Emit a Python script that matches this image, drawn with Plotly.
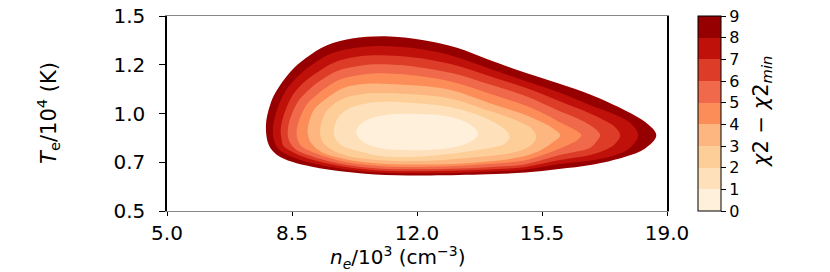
import plotly.graph_objects as go

# ---- data ----
ne_ticks = [5.0, 8.5, 12.0, 15.5, 19.0]
ne_tick_labels = ["5.0", "8.5", "12.0", "15.5", "19.0"]
te_ticks = [0.5, 0.75, 1.0, 1.25, 1.5]
te_tick_labels = ["0.5", "0.7", "1.0", "1.2", "1.5"]
chi_levels = [0, 1, 2, 3, 4, 5, 6, 7, 8, 9]

# boundaries of the filled regions chi2 - chi2min <= L  (ne / 10^3, Te / 10^4)
level9_ne = [7.77, 7.88, 8.05, 8.45, 8.87, 9.48, 10.18, 11.11, 12.19, 13.12, 14.05, 15.10, 15.97, 16.90, 17.83, 18.39, 18.70,
             18.39, 17.83, 16.90, 15.97, 15.03, 13.77, 12.20, 11.11, 9.99, 9.06, 8.50, 8.08, 7.85]
level9_te = [0.940, 1.040, 1.111, 1.213, 1.282, 1.350, 1.384, 1.396, 1.376, 1.337, 1.273, 1.205, 1.154, 1.094, 1.016, 0.956, 0.889,
             0.821, 0.778, 0.737, 0.715, 0.697, 0.687, 0.682, 0.684, 0.701, 0.727, 0.752, 0.787, 0.838]

level8_ne = [7.97, 8.25, 8.63, 9.02, 9.58, 10.3, 11.0, 12.0, 13.0, 14.0, 15.0, 16.0, 17.0, 17.5, 17.95, 18.19,
             17.95, 17.5, 17.0, 16.0, 15.0, 14.0, 13.0, 12.0, 11.0, 10.0, 9.1, 8.54, 8.17, 8.02]
level8_te = [0.935, 1.094, 1.184, 1.245, 1.306, 1.337, 1.346, 1.333, 1.295, 1.232, 1.169, 1.106, 1.032, 0.998, 0.955, 0.889,
             0.822, 0.783, 0.763, 0.741, 0.712, 0.701, 0.695, 0.693, 0.696, 0.713, 0.743, 0.774, 0.810, 0.849]

level7_ne = [8.19, 8.46, 8.81, 9.17, 9.68, 10.3, 11.0, 12.0, 13.0, 14.0, 15.0, 16.0, 16.85, 17.3, 17.55, 17.69,
             17.55, 17.3, 16.85, 16.0, 15.0, 14.0, 13.0, 12.0, 11.0, 10.0, 9.12, 8.58, 8.26, 8.21]
level7_te = [0.932, 1.076, 1.156, 1.207, 1.262, 1.291, 1.299, 1.286, 1.251, 1.193, 1.134, 1.063, 1.000, 0.960, 0.930, 0.889,
             0.845, 0.815, 0.787, 0.761, 0.725, 0.713, 0.706, 0.704, 0.707, 0.726, 0.760, 0.796, 0.833, 0.865]

level6_ne = [8.39, 8.66, 9.00, 9.31, 9.78, 10.4, 11.0, 12.0, 13.0, 14.0, 15.0, 16.0, 16.5, 16.85, 17.05, 17.13,
             17.05, 16.85, 16.5, 16.0, 15.0, 14.0, 13.0, 12.0, 11.0, 10.0, 9.15, 8.61, 8.42]
level6_te = [0.930, 1.059, 1.126, 1.170, 1.219, 1.245, 1.252, 1.239, 1.206, 1.151, 1.092, 1.012, 0.975, 0.940, 0.912, 0.889,
             0.862, 0.825, 0.806, 0.787, 0.739, 0.725, 0.717, 0.714, 0.717, 0.737, 0.775, 0.815, 0.860]

level5_ne = [8.64, 8.89, 9.19, 9.46, 9.88, 10.5, 11.0, 12.0, 13.0, 14.0, 15.0, 15.6, 16.0, 16.3, 16.5, 16.6,
             16.5, 16.3, 16.0, 15.0, 14.0, 13.0, 12.0, 11.0, 10.0, 9.18, 8.75, 8.65]
level5_te = [0.925, 1.040, 1.095, 1.133, 1.177, 1.200, 1.206, 1.193, 1.161, 1.104, 1.043, 0.995, 0.955, 0.928, 0.908, 0.889,
             0.866, 0.845, 0.821, 0.759, 0.741, 0.730, 0.726, 0.730, 0.751, 0.795, 0.835, 0.870]

level4_ne = [8.94, 9.12, 9.38, 9.61, 9.98, 10.6, 11.0, 12.0, 13.0, 14.0, 15.0, 15.5, 15.8, 16.01,
             15.8, 15.5, 15.0, 14.0, 13.0, 12.0, 11.0, 10.0, 9.35, 9.05, 8.96]
level4_te = [0.922, 1.020, 1.065, 1.096, 1.133, 1.152, 1.153, 1.143, 1.118, 1.055, 0.995, 0.955, 0.925, 0.889,
             0.852, 0.815, 0.781, 0.754, 0.741, 0.738, 0.742, 0.766, 0.800, 0.845, 0.880]

level3_ne = [9.29, 9.42, 9.65, 9.95, 10.4, 11.0, 12.0, 13.0, 14.0, 14.5, 14.9, 15.2, 15.34,
             15.2, 14.9, 14.5, 14.0, 13.0, 12.0, 11.0, 10.0, 9.6, 9.37, 9.30]
level3_te = [0.918, 1.000, 1.045, 1.078, 1.098, 1.105, 1.097, 1.075, 1.015, 0.985, 0.955, 0.925, 0.882,
             0.838, 0.810, 0.792, 0.782, 0.766, 0.756, 0.760, 0.785, 0.815, 0.850, 0.885]

level2_ne = [9.67, 9.78, 10.0, 10.4, 11.0, 12.0, 13.0, 13.6, 14.1, 14.45, 14.59,
             14.45, 14.1, 13.77, 13.0, 12.0, 11.0, 10.3, 9.9, 9.72]
level2_te = [0.912, 0.975, 1.015, 1.045, 1.059, 1.052, 1.030, 1.000, 0.960, 0.920, 0.880,
             0.845, 0.825, 0.816, 0.795, 0.778, 0.782, 0.810, 0.835, 0.870]

level1_ne = [10.30, 10.45, 10.8, 11.3, 12.0, 12.7, 13.2, 13.55, 13.71, 13.55, 13.2, 12.7, 12.0, 11.3, 10.8, 10.45]
level1_te = [0.905, 0.950, 0.980, 0.996, 0.998, 0.990, 0.968, 0.935, 0.898, 0.860, 0.835, 0.818, 0.812, 0.815, 0.830, 0.860]

# colours of the bands 0-1, 1-2, ..., 8-9 (OrRd)
band_colors = ["#fff0dc", "#fee1ba", "#fdce98", "#fdb67f", "#fc8d59",
               "#f0694a", "#dc3c28", "#bf100a", "#970000"]

# ---- figure ----
FONT = "DejaVu Sans"
fig = go.Figure()

boundaries = [
    (9, level9_ne, level9_te), (8, level8_ne, level8_te), (7, level7_ne, level7_te),
    (6, level6_ne, level6_te), (5, level5_ne, level5_te), (4, level4_ne, level4_te),
    (3, level3_ne, level3_te), (2, level2_ne, level2_te), (1, level1_ne, level1_te),
]
for lev, xs, ys in boundaries:
    fig.add_trace(go.Scatter(
        x=list(xs) + [xs[0]], y=list(ys) + [ys[0]],
        mode="lines", fill="toself", fillcolor=band_colors[lev - 1],
        line=dict(width=0, shape="spline", smoothing=1.0, color=band_colors[lev - 1]),
        hoverinfo="skip", showlegend=False,
    ))

# discrete colour bar (dummy heatmap placed outside the visible range)
cscale = []
n = len(band_colors)
for i, c in enumerate(band_colors):
    cscale.append([i / n, c])
    cscale.append([(i + 1) / n, c])

fig.add_trace(go.Heatmap(
    x=[100, 101], y=[100], z=[[chi_levels[0], chi_levels[-1]]],
    zmin=chi_levels[0], zmax=chi_levels[-1], colorscale=cscale,
    hoverinfo="skip", showscale=True,
    colorbar=dict(
        thickness=23, thicknessmode="pixels", len=1, lenmode="fraction",
        x=1.062, xanchor="left", xpad=0, y=0.5, yanchor="middle", ypad=0,
        outlinewidth=1, outlinecolor="black",
        tickmode="array", tickvals=chi_levels, ticktext=[str(v) for v in chi_levels],
        ticks="outside", ticklen=5, tickwidth=1, tickcolor="black",
        ticklabeloverflow="allow",
        tickfont=dict(family=FONT, size=16, color="black"),
    ),
))

# the page adds an 8 px body margin, so the figure is 8 px smaller than the window
fig.update_layout(
    width=822, height=264,
    margin=dict(l=159, r=163, t=8, b=61, autoexpand=False),
    paper_bgcolor="white", plot_bgcolor="white",
    font=dict(family=FONT, color="black"),
    xaxis=dict(
        range=[5, 19], tickmode="array", tickvals=ne_ticks, ticktext=ne_tick_labels,
        ticks="outside", ticklen=4, tickwidth=1, tickcolor="black",
        showline=True, linecolor="#888888", linewidth=1, mirror=True,
        showgrid=False, zeroline=False, ticklabeloverflow="allow",
        tickfont=dict(family=FONT, size=20, color="black"),
    ),
    yaxis=dict(
        range=[0.5, 1.5], tickmode="array", tickvals=te_ticks, ticktext=te_tick_labels,
        ticks="outside", ticklen=6, tickwidth=1, tickcolor="black",
        showline=True, linecolor="black", linewidth=1.5, mirror=True,
        showgrid=False, zeroline=False, ticklabelstandoff=10, ticklabeloverflow="allow",
        tickfont=dict(family=FONT, size=20, color="black"),
    ),
    annotations=[
        dict(text="<i>n</i><sub><i>e</i></sub>/10<sup>3</sup> (cm<sup>−3</sup>)",
             x=0.462, y=-0.238, xref="paper", yref="paper", showarrow=False,
             xanchor="center", yanchor="middle", font=dict(family=FONT, size=20, color="black")),
        dict(text="<i>T</i><sub>e</sub>/10<sup>4</sup> (K)",
             x=-0.238, y=0.503, xref="paper", yref="paper", showarrow=False, textangle=-90,
             xanchor="center", yanchor="middle", font=dict(family=FONT, size=21, color="black")),
        dict(text="<i>χ</i>2 − <i>χ</i>2<sub><i>min</i></sub>",
             x=1.19, y=0.508, xref="paper", yref="paper", showarrow=False, textangle=-90,
             xanchor="center", yanchor="middle", font=dict(family=FONT, size=21, color="black")),
    ],
)

fig.write_html("out.html")
